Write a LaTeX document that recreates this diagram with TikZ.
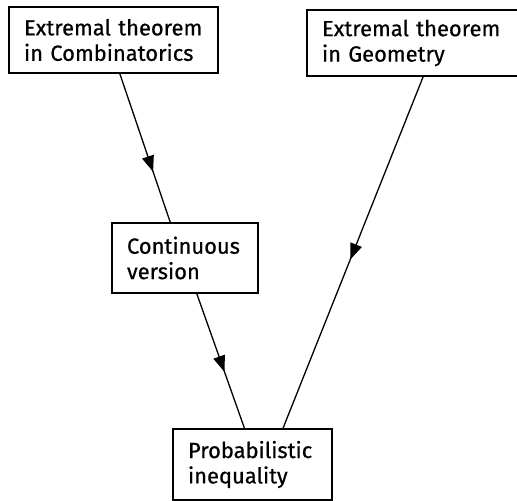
\documentclass[tikz,border=0pt]{standalone}
\usepackage{fontspec}
\setsansfont[FakeBold=0.6]{Fira Sans}
\usetikzlibrary{calc,arrows.meta,decorations.markings}
\begin{document}
\begin{tikzpicture}[x=1bp,y=-1bp,
  boxnode/.style={draw, line width=1.4bp, inner xsep=15bp, inner ysep=0bp, align=left,
    font=\sffamily\fontsize{22}{25.5}\selectfont, anchor=center},
  conn/.style={line width=1.3bp, postaction={decorate}, decoration={markings,
    mark=at position #1 with {\arrow{Triangle[length=16bp,width=12bp]}}}}
]
\useasboundingbox (0,0) rectangle (517,501);
\begin{scope}
\clip (0,0) rectangle (517,501);
\node[boxnode, minimum width=209bp, minimum height=66bp, text width=179bp] (b1) at (113.5,40) {Extremal theorem\\in Combinatorics};
\node[boxnode, minimum width=215bp, minimum height=66bp, text width=185bp] (b2) at (414.5,43) {Extremal theorem\\in Geometry};
\node[boxnode, minimum width=146bp, minimum height=70bp, text width=116bp] (b3) at (185,258) {Continuous\\version};
\node[boxnode, minimum width=159bp, minimum height=71bp, text width=129bp] (b4) at (252.5,464.5) {Probabilistic\\inequality};
\end{scope}
\draw[conn=0.66] ($(b1.south west)!0.53!(b1.south east)$) -- ($(b3.north west)!0.40!(b3.north east)$);
\draw[conn=0.58] ($(b3.south west)!0.58!(b3.south east)$) -- ($(b4.north west)!0.45!(b4.north east)$);
\draw[conn=0.52] ($(b2.south west)!0.54!(b2.south east)$) -- ($(b4.north west)!0.69!(b4.north east)$);
\end{tikzpicture}
\end{document}
